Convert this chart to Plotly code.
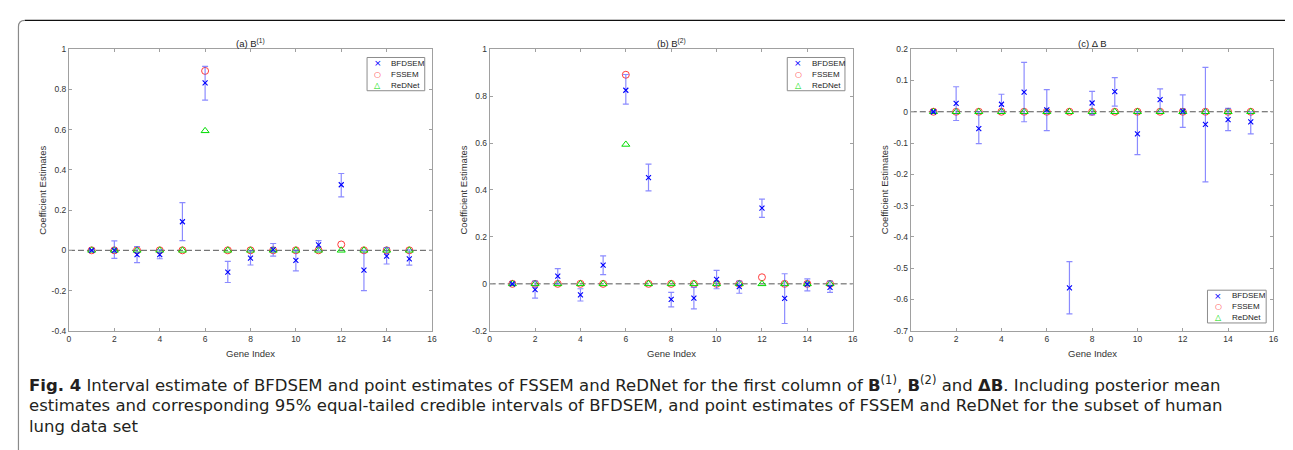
import plotly.graph_objects as go

W, H = 1293, 450

genes = list(range(1, 16))

# Panel (a) B(1)
a_mean = [0.0, 0.0, -0.021, -0.021, 0.142, 0.832, -0.108, -0.039, 0.003, -0.050, 0.027, 0.326, -0.098, -0.029, -0.043]
a_lo = [-0.003, -0.040, -0.061, -0.042, 0.048, 0.747, -0.160, -0.073, -0.029, -0.102, -0.002, 0.266, -0.200, -0.068, -0.074]
a_hi = [0.003, 0.047, 0.019, 0.002, 0.237, 0.915, -0.055, -0.002, 0.034, 0.0, 0.048, 0.382, 0.0, 0.013, 0.002]
a_fssem = [0, 0, 0, 0, 0, 0.892, 0, 0, 0, 0, 0, 0.029, 0, 0, 0]
a_rednet = [0, 0, 0, 0, 0, 0.594, 0, 0, 0, 0, 0, 0, 0, 0, 0]

# Panel (b) B(2)
b_mean = [0.0, -0.025, 0.033, -0.047, 0.080, 0.825, 0.453, -0.066, -0.061, 0.019, -0.012, 0.323, -0.062, -0.001, -0.015]
b_lo = [-0.003, -0.061, 0.0, -0.073, 0.039, 0.766, 0.396, -0.098, -0.107, -0.021, -0.040, 0.283, -0.169, -0.030, -0.036]
b_hi = [0.003, 0.012, 0.065, -0.021, 0.119, 0.892, 0.510, -0.036, -0.015, 0.057, 0.012, 0.361, 0.043, 0.021, 0.012]
b_fssem = [0, 0, 0, 0, 0, 0.891, 0, 0, 0, 0, 0, 0.028, 0, 0, 0]
b_rednet = [0, 0, 0, 0, 0, 0.594, 0, 0, 0, 0, 0, 0, 0, 0, 0]

# Panel (c) Delta B
c_mean = [0.0, 0.027, -0.054, 0.024, 0.063, 0.006, -0.563, 0.028, 0.064, -0.071, 0.039, 0.002, -0.040, -0.025, -0.032]
c_lo = [-0.002, -0.028, -0.102, 0.0, -0.032, -0.060, -0.646, -0.010, 0.018, -0.137, 0.0, -0.050, -0.224, -0.060, -0.071]
c_hi = [0.002, 0.080, 0.0, 0.056, 0.158, 0.071, -0.479, 0.065, 0.109, 0.0, 0.073, 0.054, 0.142, 0.011, 0.0]
c_fssem = [0, 0, 0, 0, 0, 0, 0, 0, 0, 0, 0, 0, 0, 0, 0]
c_rednet = [0, 0, 0, 0, 0, 0, 0, 0, 0, 0, 0, 0, 0, 0, 0]

x_ticks = [0, 2, 4, 6, 8, 10, 12, 14, 16]
a_yticks = [-0.4, -0.2, 0, 0.2, 0.4, 0.6, 0.8, 1]
a_ytext = ["-0.4", "-0.2", "0", "0.2", "0.4", "0.6", "0.8", "1"]
b_yticks = [-0.2, 0, 0.2, 0.4, 0.6, 0.8, 1]
b_ytext = ["-0.2", "0", "0.2", "0.4", "0.6", "0.8", "1"]
c_yticks = [-0.7, -0.6, -0.5, -0.4, -0.3, -0.2, -0.1, 0, 0.1, 0.2]
c_ytext = ["-0.7", "-0.6", "-0.5", "-0.4", "-0.3", "-0.2", "-0.1", "0", "0.1", "0.2"]

titles = ["(a) B<sup>(1)</sup>", "(b) B<sup>(2)</sup>", "(c) \u0394 B"]
series_names = ["BFDSEM", "FSSEM", "ReDNet"]
series_colors = ["#0000ff", "#ff3c3c", "#00dd00"]
legend_glyphs = ["\u00d7", "\u25cb", "\u25b3"]

# legend boxes in pixels: (left, top, right, bottom)
panels = [
    dict(mean=a_mean, lo=a_lo, hi=a_hi, fs=a_fssem, rd=a_rednet, yr=[-0.4, 1], tv=a_yticks, tt=a_ytext,
         px=(59.3, 424.3), leg=(359, 45.5, 417, 79.5), ylab_x=33),
    dict(mean=b_mean, lo=b_lo, hi=b_hi, fs=b_fssem, rd=b_rednet, yr=[-0.2, 1], tv=b_yticks, tt=b_ytext,
         px=(482.3, 847.3), leg=(781.5, 45.5, 839.5, 79.5), ylab_x=456),
    dict(mean=c_mean, lo=c_lo, hi=c_hi, fs=c_fssem, rd=c_rednet, yr=[-0.7, 0.2], tv=c_yticks, tt=c_ytext,
         px=(905.7, 1270.3), leg=(1204, 283.5, 1263, 317), ylab_x=880),
]

top_px, bot_px = 37, 325
ydom = [1 - bot_px / H, 1 - top_px / H]

fig = go.Figure()
layout = {}
annotations = []
shapes = []
FONT = "Liberation Sans, Arial, sans-serif"
tickfont = dict(family=FONT, size=8.5, color="#333333")

for i, p in enumerate(panels):
    n = i + 1
    xa = "x" if n == 1 else f"x{n}"
    ya = "y" if n == 1 else f"y{n}"
    err_plus = [h - m for h, m in zip(p["hi"], p["mean"])]
    err_minus = [m - l for m, l in zip(p["mean"], p["lo"])]
    fig.add_trace(go.Scatter(
        x=genes, y=p["fs"], mode="markers", name=series_names[1], xaxis=xa, yaxis=ya, showlegend=False,
        marker=dict(symbol="circle-open", size=7, color=series_colors[1], line=dict(width=1, color=series_colors[1])),
    ))
    fig.add_trace(go.Scatter(
        x=genes, y=p["rd"], mode="markers", name=series_names[2], xaxis=xa, yaxis=ya, showlegend=False,
        marker=dict(symbol="triangle-up-open", size=7, color=series_colors[2], line=dict(width=1, color=series_colors[2])),
    ))
    fig.add_trace(go.Scatter(
        x=genes, y=p["mean"], mode="markers", name=series_names[0], xaxis=xa, yaxis=ya, showlegend=False,
        marker=dict(symbol="x-thin-open", size=5, color=series_colors[0], line=dict(width=1.1, color=series_colors[0])),
        error_y=dict(type="data", symmetric=False, array=err_plus, arrayminus=err_minus,
                     color="rgba(90,90,255,0.7)", thickness=1.2, width=3),
    ))
    xdom = [p["px"][0] / W, p["px"][1] / W]
    axkey = "xaxis" if n == 1 else f"xaxis{n}"
    aykey = "yaxis" if n == 1 else f"yaxis{n}"
    layout[axkey] = dict(domain=xdom, range=[0, 16], tickvals=x_ticks, ticktext=[str(v) for v in x_ticks],
                         anchor=ya, showline=True, linecolor="#a0a0a0", linewidth=1, mirror="allticks",
                         ticks="inside", ticklen=3, tickcolor="#a0a0a0", showgrid=False, zeroline=False,
                         tickfont=tickfont, fixedrange=True)
    layout[aykey] = dict(domain=ydom, range=p["yr"], tickvals=p["tv"], ticktext=p["tt"],
                         anchor=xa, showline=True, linecolor="#a0a0a0", linewidth=1, mirror="allticks",
                         ticks="inside", ticklen=3, tickcolor="#a0a0a0", showgrid=False, zeroline=False,
                         tickfont=tickfont, fixedrange=True)
    shapes.append(dict(type="line", xref=f"{xa} domain", yref=ya, x0=0, x1=1, y0=0, y1=0,
                       line=dict(color="#555555", width=1, dash="6px,3px"), layer="below"))
    cx = (p["px"][0] + p["px"][1]) / 2 / W
    annotations.append(dict(text=titles[i], x=cx, y=1 - 31 / H, xref="paper", yref="paper", showarrow=False,
                            xanchor="center", yanchor="middle",
                            font=dict(family=FONT, size=9.5, color="#222222")))
    annotations.append(dict(text="Gene Index", x=cx, y=1 - 348 / H, xref="paper", yref="paper", showarrow=False,
                            xanchor="center", yanchor="middle",
                            font=dict(family=FONT, size=9.5, color="#333333")))
    annotations.append(dict(text="Coefficient Estimates", x=p["ylab_x"] / W, y=1 - 181 / H, xref="paper",
                            yref="paper", showarrow=False, textangle=-90, xanchor="center", yanchor="middle",
                            font=dict(family=FONT, size=9.5, color="#333333")))
    # legend box
    L, T, R, B = p["leg"]
    shapes.append(dict(type="rect", xref="paper", yref="paper", x0=L / W, x1=R / W, y0=1 - B / H, y1=1 - T / H,
                       line=dict(color="#8c8c8c", width=1), fillcolor="white", layer="above"))
    row_h = (B - T) / 3
    for k in range(3):
        yy = T + row_h * (k + 0.5)
        annotations.append(dict(text=legend_glyphs[k], x=(L + 11) / W, y=1 - yy / H, xref="paper", yref="paper",
                                showarrow=False, xanchor="center", yanchor="middle",
                                font=dict(family="DejaVu Sans", size=8 if k else 9, color=series_colors[k])))
        annotations.append(dict(text=series_names[k], x=(L + 22.5) / W, y=1 - yy / H, xref="paper", yref="paper",
                                showarrow=False, xanchor="left", yanchor="middle",
                                font=dict(family=FONT, size=8, color="#222222")))

cap_font = dict(family="DejaVu Sans", size=16.5, color="#231f20")
cap_lines = [
    "<b>Fig. 4</b> Interval estimate of BFDSEM and point estimates of FSSEM and ReDNet for the first column of "
    "<b>B</b><sup>(1)</sup>, <b>B</b><sup>(2)</sup> and <b>\u0394B</b>. Including posterior mean",
    "estimates and corresponding 95% equal-tailed credible intervals of BFDSEM, and point estimates of FSSEM and ReDNet for the subset of human",
    "lung data set",
]
for line, yy in zip(cap_lines, [379, 401.5, 423]):
    annotations.append(dict(text=line, x=17 / W, y=1 - yy / H, xref="paper", yref="paper", showarrow=False,
                            xanchor="left", yanchor="middle", font=cap_font))


def px2paper(x, y):
    return x / W, 1 - y / H


# frame lines (left gray with rounded corner, top black)
x1, y1 = px2paper(8.5, 450)
x2, y2 = px2paper(8.5, 14)
x3, y3 = px2paper(15, 7.5)
shapes.append(dict(type="path", xref="paper", yref="paper",
                   path=f"M {x1},{y1} L {x2},{y2} Q {x1},{y3} {x3},{y3}",
                   line=dict(color="#8a8a8a", width=1.2)))
xb_, yb_ = px2paper(1288, 7.5)
xc_, yc_ = px2paper(1291, 10)
shapes.append(dict(type="path", xref="paper", yref="paper",
                   path=f"M {x3},{y3} L {xb_},{yb_} Q {xc_},{yb_} {xc_},{yc_}",
                   line=dict(color="#111111", width=1.4)))

fig.update_layout(
    width=W, height=H, margin=dict(l=0, r=0, t=0, b=0),
    paper_bgcolor="white", plot_bgcolor="white", showlegend=False,
    annotations=annotations, shapes=shapes, **layout,
)

fig.write_html("out.html")
